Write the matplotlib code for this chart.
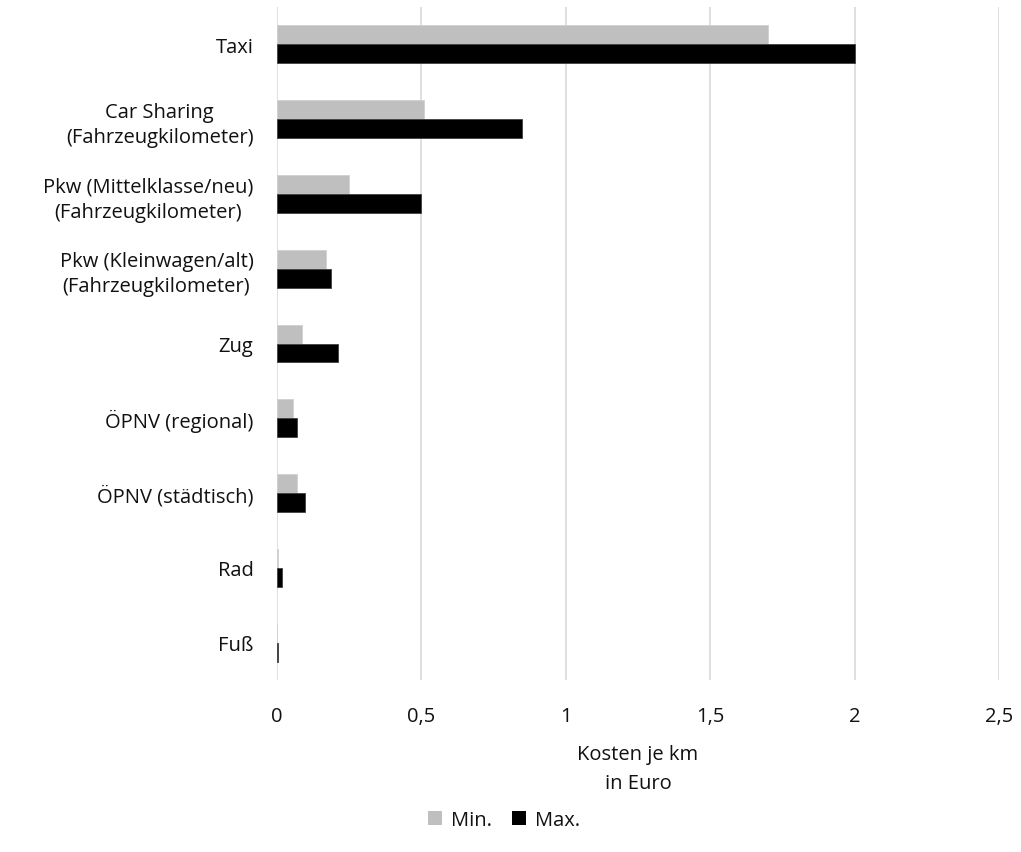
import numpy as np
import matplotlib.pyplot as plt
from matplotlib.patches import Patch

plt.rcParams['font.family'] = ['Open Sans', 'DejaVu Sans']

# Kosten je km in Euro, von oben nach unten
kategorien = ['Taxi',
              'Car Sharing\n(Fahrzeugkilometer)',
              'Pkw (Mittelklasse/neu)\n(Fahrzeugkilometer)',
              'Pkw (Kleinwagen/alt)\n(Fahrzeugkilometer)',
              'Zug',
              'ÖPNV (regional)',
              'ÖPNV (städtisch)',
              'Rad',
              'Fuß']
kosten_min = [1.7, 0.51, 0.25, 0.17, 0.085, 0.057, 0.068, 0.005, 0.0]
kosten_max = [2.0, 0.85, 0.5, 0.186, 0.21, 0.068, 0.096, 0.018, 0.005]
xticks = [0, 0.5, 1, 1.5, 2, 2.5]
xtick_labels = ['0', '0,5', '1', '1,5', '2', '2,5']

grau = '#bfbfbf'
schwarz = '#000000'
textfarbe = '#111111'
fs = 14.5

fig = plt.figure(figsize=(10.21, 8.53), dpi=100)
ax = fig.add_axes([277 / 1021, 1 - 681 / 853, (999 - 277) / 1021, (681 - 8) / 853])

y = np.arange(len(kategorien))
h = 0.254
ax.barh(y - h / 2, kosten_min, height=h, color=grau, edgecolor='#d0d0d0', linewidth=0.6, zorder=3)
ax.barh(y + h / 2, kosten_max, height=h, color=schwarz, edgecolor='#404040', linewidth=0.6, zorder=3)

ax.set_ylim(len(kategorien) - 0.5, -0.5)
ax.set_xlim(0, 2.5)
ax.set_yticks(y)
ax.set_yticklabels(kategorien, fontsize=fs, color=textfarbe, multialignment='center', linespacing=1.35)
ax.set_xticks(xticks)
ax.set_xticklabels(xtick_labels, fontsize=fs, color=textfarbe)
ax.tick_params(axis='both', length=0)
ax.tick_params(axis='y', pad=17)
ax.tick_params(axis='x', pad=19)

ax.grid(axis='x', color='#d9d9d9', linewidth=1.2, zorder=0)
for s in ax.spines.values():
    s.set_visible(False)

ax.set_xlabel('Kosten je km\nin Euro', fontsize=fs, color=textfarbe, labelpad=13, linespacing=1.6)

handles = [Patch(facecolor=grau, label='Min.'), Patch(facecolor=schwarz, label='Max.')]
fig.legend(handles=handles, loc='center', bbox_to_anchor=(504 / 1021, 1 - 821 / 853), ncol=2,
           frameon=False, fontsize=fs, handlelength=0.7, handleheight=0.7, handletextpad=0.45,
           columnspacing=1.0, labelcolor=textfarbe)

fig.savefig('out.png', dpi=100)
